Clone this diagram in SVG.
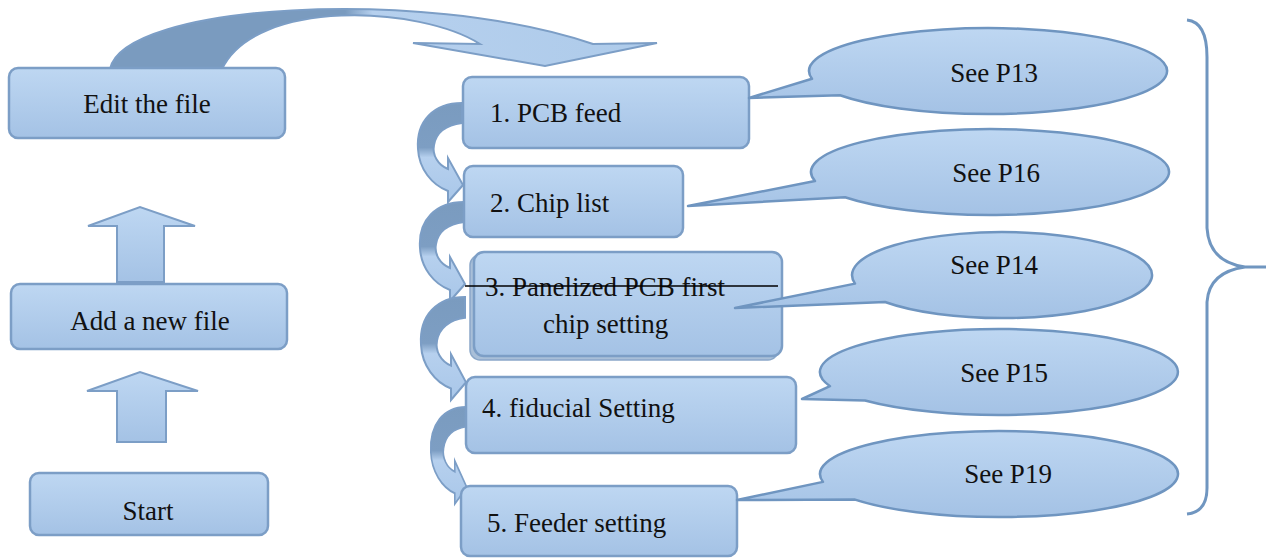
<svg xmlns="http://www.w3.org/2000/svg" width="1273" height="558" viewBox="0 0 1273 558">
<defs>
<linearGradient id="boxg" x1="0" y1="0" x2="0" y2="1">
<stop offset="0" stop-color="#bed7f2"/>
<stop offset="1" stop-color="#a4c2e5"/>
</linearGradient>
<linearGradient id="bigArrowG" gradientUnits="userSpaceOnUse" x1="110" y1="0" x2="657" y2="0">
<stop offset="0" stop-color="#7a9bbf"/>
<stop offset="0.43" stop-color="#7a9bbf"/>
<stop offset="0.48" stop-color="#b6d0ee"/>
<stop offset="1" stop-color="#aecbea"/>
</linearGradient>
<linearGradient id="curlG" x1="0" y1="0" x2="0" y2="1">
<stop offset="0" stop-color="#7a9bbf"/>
<stop offset="0.45" stop-color="#7d9ec3"/>
<stop offset="0.55" stop-color="#b6d0ee"/>
<stop offset="1" stop-color="#a9c7e9"/>
</linearGradient>
<path id="curl" d="M0,0 C-28,0 -46,18 -44,46 C-43,66 -30,82 -14,88 L-14,99 L1,82 L-14,55 L-14,66 C-24,62 -30,52 -28,42 C-26,30 -16,22 0,20 Z"/>
</defs>
<style>
.box{fill:url(#boxg);stroke:#7c9ec6;stroke-width:2.5}
.shadow{fill:#a9bfd8;stroke:#8aa7c9;stroke-width:1.5}
.arrow{stroke:#7c9ec6;stroke-width:2}
.call{fill:url(#boxg);stroke:#6f95c0;stroke-width:2.5;stroke-linejoin:round}
text{font-family:'Liberation Serif','Times New Roman','Noto Serif','DejaVu Serif',serif;font-size:27px;fill:#111}
.tc{text-anchor:middle}
.brace{fill:none;stroke:#7096c0;stroke-width:3}
</style>

<g id="connectors">
<path id="big-arrow" class="arrow" fill="url(#bigArrowG)" d="M110,69 C124,4 420,-14 593,44 L657,43 L545,66 L413,43 L480,44 C420,6 256,-2 222,69 Z"/>
<use href="#curl" class="arrow" fill="url(#curlG)" transform="translate(462,103)"/>
<use href="#curl" class="arrow" fill="url(#curlG)" transform="translate(464,202)"/>
<use href="#curl" class="arrow" fill="url(#curlG)" transform="translate(465,297) scale(1,1.04)"/>
<use href="#curl" class="arrow" fill="url(#curlG)" transform="translate(466,407) scale(0.8,0.98)"/>
<path id="up-arrow-1" class="arrow" fill="url(#boxg)" d="M117,282 L117,226 L88,226 L140,207 L195,226 L164,226 L164,282 Z"/>
<path id="up-arrow-2" class="arrow" fill="url(#boxg)" d="M117,442 L117,391 L87,391 L140,372 L198,391 L166,391 L166,442 Z"/>
<path id="brace" class="brace" d="M1187,20 Q1207,22 1207,57 L1207,228 Q1209,262 1245,267 L1266,267 M1245,267 Q1209,272 1207,302 L1207,488 Q1207,512 1187,514"/>
</g>

<g id="node-edit">
<rect class="box" x="9" y="68" width="276" height="70" rx="9"/>
<text class="tc" x="147" y="113" font-family="Liberation Serif, serif">Edit the file</text>
</g>
<g id="node-add">
<rect class="box" x="11" y="284" width="276" height="65" rx="9"/>
<text class="tc" x="150" y="330" font-family="Liberation Serif, serif">Add a new file</text>
</g>
<g id="node-start">
<rect class="box" x="30" y="473" width="238" height="62" rx="9"/>
<text class="tc" x="148" y="520" font-family="Liberation Serif, serif">Start</text>
</g>

<g id="node-1">
<rect class="box" x="463" y="77" width="286" height="71" rx="9"/>
<text x="490" y="122" font-family="Liberation Serif, serif">1. PCB feed</text>
</g>
<g id="node-2">
<rect class="box" x="464" y="166" width="219" height="71" rx="9"/>
<text x="490" y="212" font-family="Liberation Serif, serif">2. Chip list</text>
</g>
<g id="node-3">
<rect class="shadow" x="470" y="255" width="308" height="105" rx="10"/>
<rect class="box" x="474" y="252" width="308" height="104" rx="10"/>
<text x="485" y="296" font-family="Liberation Serif, serif">3. Panelized PCB first</text>
<text x="543" y="333" font-family="Liberation Serif, serif">chip setting</text>
<line x1="465" y1="286" x2="778" y2="286" stroke="#000" stroke-width="1.6"/>
</g>
<g id="node-4">
<rect class="box" x="466" y="377" width="330" height="76" rx="9"/>
<text x="482" y="417" font-family="Liberation Serif, serif">4. fiducial Setting</text>
</g>
<g id="node-5">
<rect class="box" x="461" y="486" width="276" height="70" rx="9"/>
<text x="487" y="532" font-family="Liberation Serif, serif">5. Feeder setting</text>
</g>

<g id="callout-p13">
<path class="call" d="M749,98 L812,78.8 A179,43 0 1 1 840,95.2 Z"/>
<text class="tc" x="994" y="82" font-family="Liberation Serif, serif">See P13</text>
</g>
<g id="callout-p16">
<path class="call" d="M688,206 L815,181 A179,43 0 1 1 845,197.2 Z"/>
<text class="tc" x="996" y="182" font-family="Liberation Serif, serif">See P16</text>
</g>
<g id="callout-p14">
<path class="call" d="M735,308 L855,283.6 A150,43 0 1 1 885,302 Z"/>
<text class="tc" x="994" y="274" font-family="Liberation Serif, serif">See P14</text>
</g>
<g id="callout-p15">
<path class="call" d="M802,399 L830,386.2 A179,43 0 1 1 865,400.5 Z"/>
<text class="tc" x="1004" y="382" font-family="Liberation Serif, serif">See P15</text>
</g>
<g id="callout-p19">
<path class="call" d="M737,500 L823,481.9 A179,43 0 1 1 855,499.6 Z"/>
<text class="tc" x="1008" y="483" font-family="Liberation Serif, serif">See P19</text>
</g>
</svg>
